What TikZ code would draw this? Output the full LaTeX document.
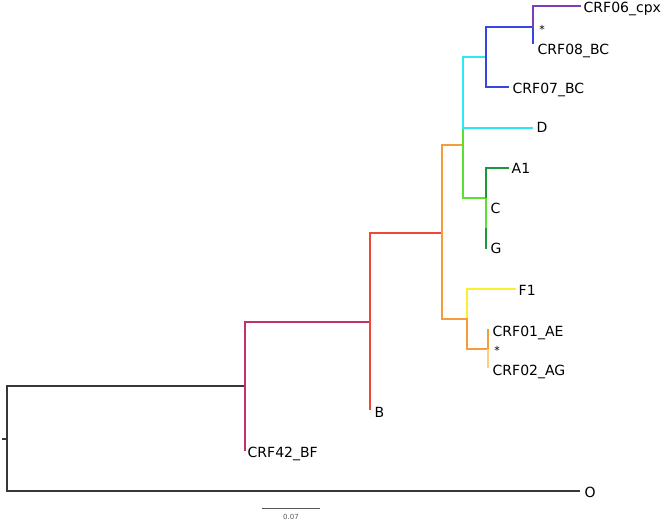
\documentclass[tikz,border=0pt]{standalone}
\usepackage{fontspec}
\setmainfont{DejaVu Sans}
\definecolor{cblack}{RGB}{55,55,55}
\definecolor{cmag}{RGB}{196,48,110}
\definecolor{cred}{RGB}{240,70,55}
\definecolor{corange}{RGB}{246,156,60}
\definecolor{ccyan}{RGB}{45,232,242}
\definecolor{cgreen}{RGB}{90,225,45}
\definecolor{cdgreen}{RGB}{30,150,60}
\definecolor{cblue}{RGB}{55,70,225}
\definecolor{cpurple}{RGB}{125,60,185}
\definecolor{cyellow}{RGB}{250,240,50}
\definecolor{clorange}{RGB}{252,205,130}
\definecolor{cscale}{RGB}{90,90,90}
\begin{document}
\begin{tikzpicture}[x=1pt,y=-1pt,
  br/.style={line width=1.4pt,line join=miter,line cap=rect},
  lab/.style={anchor=base west,inner sep=0pt,font=\fontsize{14}{16}\selectfont,text=black},
  star/.style={anchor=base,inner sep=0pt,font=\fontsize{11}{12}\selectfont,text=black}]
\useasboundingbox (0,0) rectangle (666,521);
% tree coordinates
\coordinate (rt) at (7,386);
\coordinate (rb) at (7,491);
\coordinate (rm) at (7,439);
\coordinate (rtick) at (2,439);
\coordinate (tO) at (579,491);
\coordinate (n1) at (245,386);
\coordinate (n1t) at (245,322);
\coordinate (t42) at (245,450);
\coordinate (n2) at (370,322);
\coordinate (n2t) at (370,233);
\coordinate (tB) at (370,409);
\coordinate (n3) at (442,233);
\coordinate (n3t) at (442,145);
\coordinate (n3b) at (442,319);
\coordinate (n4) at (463,145);
\coordinate (n4c) at (463,128);
\coordinate (n4t) at (463,57);
\coordinate (n4b) at (463,198);
\coordinate (tD) at (532,128);
\coordinate (n5) at (486,57);
\coordinate (n5t) at (486,27);
\coordinate (n5b) at (486,87);
\coordinate (t07) at (508,87);
\coordinate (n6) at (533,27);
\coordinate (n6t) at (533,6);
\coordinate (t06) at (580,6);
\coordinate (t08) at (533,43);
\coordinate (n7) at (486,198);
\coordinate (n7t) at (486,168);
\coordinate (n7m) at (486,228);
\coordinate (tA1) at (508,168);
\coordinate (tG) at (486,248);
\coordinate (n8) at (467,319);
\coordinate (n8t) at (467,289);
\coordinate (n8b) at (467,349);
\coordinate (tF1) at (515,289);
\coordinate (n9) at (488,349);
\coordinate (t01) at (488,330);
\coordinate (t02) at (488,368);
\coordinate (s1) at (262,508);
\coordinate (s2) at (320,508);
% branches
\draw[br,cblack] (n1) -- (rt) -- (rb) -- (tO);
\draw[br,cblack,line cap=butt] (rtick) -- (rm);
\draw[br,cmag] (t42) -- (n1t) -- (n2);
\draw[br,cred] (tB) -- (n2t) -- (n3);
\draw[br,corange] (n4) -- (n3t) -- (n3b) -- (n8);
\draw[br,cgreen] (n4c) -- (n4b) -- (n7);
\draw[br,ccyan] (tD) -- (n4c) -- (n4t) -- (n5);
\draw[br,cblue] (t07) -- (n5b) -- (n5t) -- (n6) -- (t08);
\draw[br,cpurple] (n6) -- (n6t) -- (t06);
\draw[br,cdgreen] (n7) -- (n7t) -- (tA1);
\draw[br,cdgreen] (n7m) -- (tG);
\draw[br,cgreen,line cap=butt] (n7) -- (n7m);
\draw[br,cyellow] (n8) -- (n8t) -- (tF1);
\draw[br,corange] (n8) -- (n8b) -- (n9) -- (t01);
\draw[br,clorange,line cap=butt] (n9) -- (t02);
% scale bar
\draw[line width=1pt,cscale] (s1) -- (s2);
\node[anchor=base,inner sep=0pt,font=\fontsize{7}{8}\selectfont,text=cscale] (sl) at (291,519) {0.07};
% labels
\node[lab] (L06) at (583.5,13) {CRF06\_cpx};
\node[lab] (L08) at (537.5,55) {CRF08\_BC};
\node[lab] (L07) at (512.5,94) {CRF07\_BC};
\node[lab] (LD) at (536.5,133) {D};
\node[lab] (LA1) at (511.5,174) {A1};
\node[lab] (LC) at (490.5,214) {C};
\node[lab] (LG) at (490.5,254) {G};
\node[lab] (LF1) at (518.5,295) {F1};
\node[lab] (L01) at (492.5,336) {CRF01\_AE};
\node[lab] (L02) at (492.5,375) {CRF02\_AG};
\node[lab] (LB) at (374.5,417) {B};
\node[lab] (L42) at (247.5,457) {CRF42\_BF};
\node[lab] (LO) at (584.5,497) {O};
\node[star] (s08) at (542,34) {*};
\node[star] (s02) at (497,354) {*};
\end{tikzpicture}
\end{document}
